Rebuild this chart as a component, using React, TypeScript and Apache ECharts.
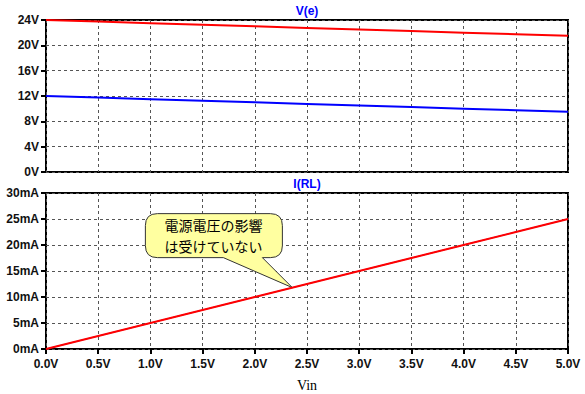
import React, { useEffect, useRef } from "react";
import * as echarts from "echarts";

const vin = [0, 0.5, 1.0, 1.5, 2.0, 2.5, 3.0, 3.5, 4.0, 4.5, 5.0];
const vSupply = [24, 23.75, 23.5, 23.25, 23, 22.75, 22.5, 22.25, 22, 21.75, 21.5];
const vHalf = [12, 11.75, 11.5, 11.25, 11, 10.75, 10.5, 10.25, 10, 9.75, 9.5];
const iRLa = [0, 2.5, 5, 7.5, 10, 12.5, 15, 17.5, 20, 22.5, 25];
const iRLb = [0, 2.5, 5, 7.5, 10, 12.5, 15, 17.5, 20, 22.5, 25];
const calloutLines = ["電源電圧の影響", "は受けていない"];
const calloutAt = [2.36, 11.8];

const bubblePath =
  "M -135 -74 H -22 Q -10 -74 -10 -62 V -42 Q -10 -30 -22 -30 H -30 L 0 0 L -69 -30 H -135 Q -147 -30 -147 -42 V -62 Q -147 -74 -135 -74 Z";

export default function App() {
  const ref = useRef<HTMLDivElement>(null);
  useEffect(() => {
    if (!ref.current) return;
    try {
      echarts.graphic.registerShape("bubble", echarts.graphic.extendPath(bubblePath, {}) as any);
    } catch (e) {}
    const chart = echarts.init(ref.current, null, { renderer: "svg" });
    const labelFont = {
      color: "#111",
      fontFamily: "Liberation Sans, Arial, sans-serif",
      fontWeight: "bold" as const,
      fontSize: 12,
    };
    const split = { show: true, lineStyle: { color: "#555", type: [3, 3] as any, width: 1 } };
    const pair = (a: number[], b: number[]) => a.map((x, i) => [x, b[i]]);
    chart.setOption({
      animation: false,
      backgroundColor: "#fff",
      grid: [
        { left: 46, top: 20, width: 522, height: 152, show: true, borderColor: "#000", borderWidth: 2, backgroundColor: "transparent" },
        { left: 46, top: 193, width: 522, height: 156, show: true, borderColor: "#000", borderWidth: 2, backgroundColor: "transparent" },
      ],
      xAxis: [
        {
          type: "value", gridIndex: 0, min: 0, max: 5, interval: 0.5,
          axisLine: { show: false }, axisTick: { show: false }, axisLabel: { show: false },
          splitLine: split,
        },
        {
          type: "value", gridIndex: 1, min: 0, max: 5, interval: 0.5,
          axisLine: { show: false },
          axisTick: { show: true, length: 5, lineStyle: { color: "#000", width: 2 } },
          axisLabel: { ...labelFont, margin: 9, formatter: (v: number) => v.toFixed(1) + "V" },
          splitLine: split,
          name: "Vin", nameLocation: "middle", nameGap: 29,
          nameTextStyle: { color: "#000", fontFamily: "Liberation Serif, Times New Roman, serif", fontSize: 14 },
        },
      ],
      yAxis: [
        {
          type: "value", gridIndex: 0, min: 0, max: 24, interval: 4,
          axisLine: { show: false },
          axisTick: { show: true, length: 5, lineStyle: { color: "#000", width: 2 } },
          axisLabel: { ...labelFont, margin: 7, formatter: (v: number) => v + "V" },
          splitLine: split,
        },
        {
          type: "value", gridIndex: 1, min: 0, max: 30, interval: 5,
          axisLine: { show: false },
          axisTick: { show: true, length: 5, lineStyle: { color: "#000", width: 2 } },
          axisLabel: { ...labelFont, margin: 7, formatter: (v: number) => v + "mA" },
          splitLine: split,
        },
      ],
      series: [
        { type: "line", xAxisIndex: 0, yAxisIndex: 0, data: pair(vin, vSupply), showSymbol: false, lineStyle: { color: "#ff0000", width: 2 } },
        { type: "line", xAxisIndex: 0, yAxisIndex: 0, data: pair(vin, vHalf), showSymbol: false, lineStyle: { color: "#0000ff", width: 2 } },
        { type: "line", xAxisIndex: 1, yAxisIndex: 1, data: pair(vin, iRLb), showSymbol: false, lineStyle: { color: "#0000ff", width: 1 } },
        { type: "line", xAxisIndex: 1, yAxisIndex: 1, data: pair(vin, iRLa), showSymbol: false, lineStyle: { color: "#ff0000", width: 2 } },
      ],
    });
    const tip = chart.convertToPixel({ gridIndex: 1 }, calloutAt) as number[];
    const titleFont = { fill: "#0000ff", font: "bold 12px 'Liberation Sans', Arial, sans-serif", align: "center" as const, verticalAlign: "middle" as const };
    const calloutFont = { fill: "#000", font: "14px 'Noto Sans CJK JP', sans-serif", align: "center" as const, verticalAlign: "middle" as const };
    chart.setOption({
      graphic: [
        { type: "text", x: 307, y: 11, style: { ...titleFont, text: "V(e)" } },
        { type: "text", x: 307, y: 184, style: { ...titleFont, text: "I(RL)" } },
        {
          type: "group", x: tip[0], y: tip[1], z: 100,
          children: [
            { type: "bubble", style: { fill: "#ffffa0", stroke: "#333", lineWidth: 1 } },
            { type: "text", x: -79, y: -62.5, style: { ...calloutFont, text: calloutLines[0] } },
            { type: "text", x: -79, y: -41.5, style: { ...calloutFont, text: calloutLines[1] } },
          ],
        },
      ],
    });
    return () => chart.dispose();
  }, []);
  return <div ref={ref} style={{ position: "fixed", left: 0, top: 0, width: 585, height: 394 }} />;
}
